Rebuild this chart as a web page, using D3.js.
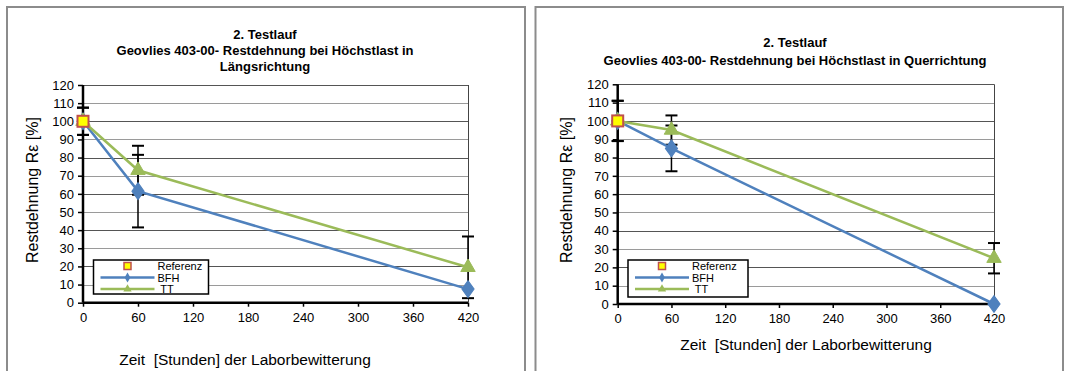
<!DOCTYPE html>
<html>
<head>
<meta charset="utf-8">
<script src="https://cdn.jsdelivr.net/npm/d3@7"></script>
<style>
  body { margin: 0; background: #fff; }
  svg { display: block; font-family: "Liberation Sans", Arial, sans-serif; }
</style>
</head>
<body>
<svg id="chart" width="1069" height="371"></svg>
<script>
// Restdehnung bei Höchstlast, 2. Testlauf - two panels (Längs / Quer)

const hours = [0, 60, 420];
const xTicks = [0, 60, 120, 180, 240, 300, 360, 420];
const yTicks = [0, 10, 20, 30, 40, 50, 60, 70, 80, 90, 100, 110, 120];
const refHours = [0];
const refValues = [100];

// Längsrichtung
const bfhLaengs = [100, 61.5, 7.5];
const ttLaengs = [100, 73, 19.5];
const bfhLaengsErr = [7.5, 20, 0];
const ttLaengsErr = [7.5, 13.5, 17];

// Querrichtung
const bfhQuer = [100, 85, 0];
const ttQuer = [100, 95, 25];
const bfhQuerErr = [11, 12.5, 0];
const ttQuerErr = [11, 8, 8.3];

const titleLine1 = '2. Testlauf';
const titlesLaengs = ['Geovlies 403-00- Restdehnung bei Höchstlast in', 'Längsrichtung'];
const titlesQuer = ['Geovlies 403-00- Restdehnung bei Höchstlast in Querrichtung'];
const yLabel = 'Restdehnung Rε [%]';
const xLabel = 'Zeit  [Stunden] der Laborbewitterung';
const legendNames = ['Referenz', 'BFH', ' TT'];

const BLUE = '#4F81BD';
const GREEN = '#9BBB59';

const svg = d3.select('#chart');

function drawPanel(cfg) {
    const g = svg.append('g');

    // panel frame (bottom is cut off in the original)
    g.append('path')
        .attr('d', `M${cfg.frame[0]},372 V${cfg.frame[1]} H${cfg.frame[2]} V372`)
        .style('fill', 'none')
        .style('stroke', '#8c8c8c')
        .style('stroke-width', 2);

    const x = d3.scaleLinear().domain([0, 420]).range([cfg.left, cfg.right]);
    const y = d3.scaleLinear().domain([0, 120]).range([cfg.bottom, cfg.top]);

    // titles
    const titles = [titleLine1].concat(cfg.titles);
    g.selectAll('.title')
        .data(titles)
        .enter()
        .append('text')
        .attr('x', cfg.titleX)
        .attr('y', (d, i) => cfg.titleY + i * cfg.titleStep)
        .style('font-size', '13px')
        .style('font-weight', 'bold')
        .style('text-anchor', 'middle')
        .style('fill', '#000')
        .text(d => d);

    // gridlines
    g.selectAll('.grid')
        .data(yTicks.slice(1))
        .enter()
        .append('line')
        .attr('x1', cfg.left)
        .attr('x2', cfg.right)
        .attr('y1', d => Math.round(y(d)) + 0.5)
        .attr('y2', d => Math.round(y(d)) + 0.5)
        .style('stroke', (d, i) => i % 2 ? '#555' : '#9a9a9a')
        .style('stroke-width', 1);

    // right frame line
    g.append('line')
        .attr('x1', cfg.right + 0.5).attr('x2', cfg.right + 0.5)
        .attr('y1', cfg.top).attr('y2', cfg.bottom)
        .style('stroke', '#444')
        .style('stroke-width', 1);

    // axes
    const yAxis = d3.axisLeft(y).tickValues(yTicks).tickSize(5).tickPadding(4);
    const xAxis = d3.axisBottom(x).tickValues(xTicks).tickSize(4).tickPadding(6);

    const ya = g.append('g')
        .attr('transform', `translate(${cfg.left},0)`)
        .call(yAxis);
    const xa = g.append('g')
        .attr('transform', `translate(0,${cfg.bottom})`)
        .call(xAxis);

    [ya, xa].forEach(a => {
        a.select('.domain').style('stroke', '#000').style('stroke-width', 2.5);
        a.selectAll('.tick line').style('stroke', '#000').style('stroke-width', 1.5);
        a.selectAll('.tick text')
            .style('font-family', '"Liberation Sans", Arial, sans-serif')
            .style('font-size', '13px')
            .style('fill', '#000');
    });
    xa.select('.domain').attr('d', `M${cfg.left},0H${cfg.right}`);
    ya.select('.domain').attr('d', `M0,${cfg.bottom}V${cfg.top}`);

    // axis titles
    g.append('text')
        .attr('transform', `translate(${cfg.yLabelX},${cfg.yLabelY}) rotate(-90)`)
        .style('font-size', '16px')
        .style('text-anchor', 'middle')
        .style('fill', '#000')
        .text(yLabel);

    g.append('text')
        .attr('x', cfg.xLabelX)
        .attr('y', cfg.xLabelY)
        .style('font-size', '15.5px')
        .style('text-anchor', 'middle')
        .style('white-space', 'pre')
        .style('fill', '#000')
        .text(xLabel);

    const series = [
        { values: cfg.bfh, err: cfg.bfhErr, color: BLUE, symbol: d3.symbolDiamond, size: 80 },
        { values: cfg.tt, err: cfg.ttErr, color: GREEN, symbol: d3.symbolTriangle, size: 90 }
    ];

    // error bars
    series.forEach(s => {
        const eb = g.selectAll(null)
            .data(hours.map((h, i) => ({ h, v: s.values[i], e: s.err[i] })).filter(d => d.e > 0))
            .enter()
            .append('g');
        eb.append('line')
            .attr('x1', d => x(d.h)).attr('x2', d => x(d.h))
            .attr('y1', d => y(d.v - d.e)).attr('y2', d => y(d.v + d.e))
            .style('stroke', '#000').style('stroke-width', 1.5);
        [-1, 1].forEach(sign => {
            eb.append('line')
                .attr('x1', d => x(d.h) - 6).attr('x2', d => x(d.h) + 6)
                .attr('y1', d => y(d.v + sign * d.e)).attr('y2', d => y(d.v + sign * d.e))
                .style('stroke', '#000').style('stroke-width', 2);
        });
    });

    const line = d3.line()
        .x((d, i) => x(hours[i]))
        .y(d => y(d));

    series.forEach(s => {
        g.append('path')
            .datum(s.values)
            .attr('d', line)
            .style('fill', 'none')
            .style('stroke', s.color)
            .style('stroke-width', 2.5);
    });

    series.forEach(s => {
        g.selectAll(null)
            .data(s.values)
            .enter()
            .append('path')
            .attr('transform', (d, i) => `translate(${x(hours[i])},${y(d)})` +
                (s.symbol === d3.symbolDiamond ? ' scale(1.25,1)' : ''))
            .attr('d', d3.symbol().type(s.symbol).size(s.size))
            .style('fill', s.color)
            .style('stroke', s.color)
            .style('stroke-width', 1);
    });

    // Referenz marker
    g.selectAll(null)
        .data(refValues)
        .enter()
        .append('rect')
        .attr('x', (d, i) => x(refHours[i]) - 5.5)
        .attr('y', d => y(d) - 5.5)
        .attr('width', 11)
        .attr('height', 11)
        .style('fill', '#FFFF00')
        .style('stroke', '#C0504D')
        .style('stroke-width', 2);

    // legend
    const lg = g.append('g').attr('transform', `translate(${cfg.legend[0]},${cfg.legend[1]})`);
    lg.append('rect')
        .attr('width', cfg.legend[2])
        .attr('height', cfg.legend[3])
        .style('fill', '#fff')
        .style('stroke', '#000')
        .style('stroke-width', 1.5);

    const rowY = [6, 17.5, 29];
    const symX = 34;
    lg.append('rect')
        .attr('x', symX - 3.5).attr('y', rowY[0] - 3.5)
        .attr('width', 7).attr('height', 7)
        .style('fill', '#FFFF00').style('stroke', '#C0504D').style('stroke-width', 1.5);
    series.forEach((s, i) => {
        lg.append('line')
            .attr('x1', symX - 27).attr('x2', symX + 27)
            .attr('y1', rowY[i + 1]).attr('y2', rowY[i + 1])
            .style('stroke', s.color).style('stroke-width', 2.5);
        lg.append('path')
            .attr('transform', `translate(${symX},${rowY[i + 1]})`)
            .attr('d', d3.symbol().type(s.symbol).size(i === 0 ? 28 : 30))
            .style('fill', s.color);
    });
    lg.selectAll('.lgtext')
        .data(legendNames)
        .enter()
        .append('text')
        .attr('x', 64)
        .attr('y', (d, i) => rowY[i] + 4)
        .style('font-size', '11px')
        .style('fill', '#000')
        .style('white-space', 'pre')
        .text(d => d);
}

drawPanel({
    frame: [7, 7, 525],
    left: 83, right: 468, top: 85, bottom: 302.7,
    titles: titlesLaengs, titleX: 265, titleY: 39, titleStep: 16,
    yLabelX: 38, yLabelY: 190,
    xLabelX: 245, xLabelY: 365,
    bfh: bfhLaengs, tt: ttLaengs, bfhErr: bfhLaengsErr, ttErr: ttLaengsErr,
    legend: [93.5, 260, 115, 34]
});

drawPanel({
    frame: [535.5, 7, 1063],
    left: 617.7, right: 994, top: 84.3, bottom: 304,
    titles: titlesQuer, titleX: 795, titleY: 47, titleStep: 18,
    yLabelX: 572, yLabelY: 190,
    xLabelX: 806, xLabelY: 350,
    bfh: bfhQuer, tt: ttQuer, bfhErr: bfhQuerErr, ttErr: ttQuerErr,
    legend: [628, 260, 120, 37]
});
</script>
</body>
</html>
